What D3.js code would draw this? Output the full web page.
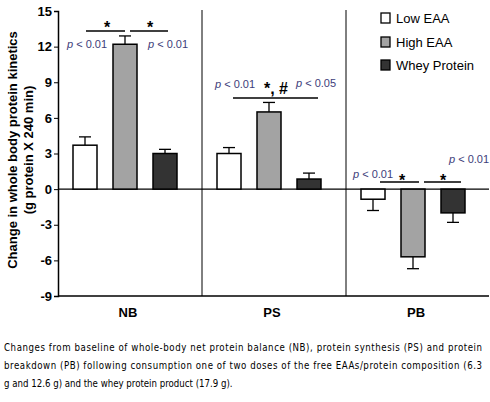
<!DOCTYPE html>
<html>
<head>
<meta charset="utf-8">
<script src="https://cdn.jsdelivr.net/npm/d3@7"></script>
<style>
body{margin:0;background:#fff;}
text{font-family:"Liberation Sans",Arial,sans-serif;}
.cap{font-family:"DejaVu Sans Condensed","Liberation Sans Narrow",sans-serif;font-size:9.6px;}
.p{fill:#3d3d7a;font-size:11px;}
</style>
</head>
<body>
<script>
var groups = ["NB","PS","PB"];
var series = ["Low EAA","High EAA","Whey Protein"];
var colors = ["#ffffff","#a3a3a3","#333333"];
var means = [[3.7,12.2,3.0],[3.0,6.5,0.85],[-0.85,-5.7,-2.0]];
var errs  = [[0.7,0.7,0.35],[0.5,0.8,0.5],[0.95,1.0,0.8]];
var ticks = [15,12,9,6,3,0,-3,-6,-9];

var W=490,H=402;
var svg=d3.select("body").append("svg").attr("width",W).attr("height",H);
var y=d3.scaleLinear().domain([-9,15]).range([296,11]);
var x0=d3.scaleBand().domain(groups).range([58,490]);
var x1=d3.scaleBand().domain(series).range([15,119]).paddingInner(0.4).paddingOuter(0);

// axis
var ax=svg.append("g").attr("transform","translate(58,0)")
  .call(d3.axisLeft(y).tickValues(ticks).tickSize(4).tickPadding(2).tickFormat(function(d){return String(d);}));
ax.select(".domain").attr("stroke","#000").attr("stroke-width",1.5);
ax.selectAll("text").style("font-size","13px").style("font-weight","bold").attr("fill","#000");
svg.append("line").attr("x1",58).attr("x2",489).attr("y1",y(-9)).attr("y2",y(-9)).attr("stroke","#000").attr("stroke-width",1.5);
svg.append("line").attr("x1",58).attr("x2",489).attr("y1",y(0)).attr("y2",y(0)).attr("stroke","#000").attr("stroke-width",1.2);
groups.slice(1).forEach(function(g){
  svg.append("line").attr("x1",x0(g)).attr("x2",x0(g)).attr("y1",10).attr("y2",y(-9)).attr("stroke","#000");
});

groups.forEach(function(g,gi){
  var gg=svg.append("g").attr("transform","translate("+x0(g)+",0)");
  series.forEach(function(s,si){
    var v=means[gi][si],e=errs[gi][si],bx=x1(s),bw=x1.bandwidth();
    var tip=v>=0?v+e:v-e;
    gg.append("line").attr("x1",bx+bw/2).attr("x2",bx+bw/2).attr("y1",y(v)).attr("y2",y(tip)).attr("stroke","#000").attr("stroke-width",1.3);
    gg.append("line").attr("x1",bx+bw/2-6).attr("x2",bx+bw/2+6).attr("y1",y(tip)).attr("y2",y(tip)).attr("stroke","#000").attr("stroke-width",1.3);
    gg.append("rect").attr("x",bx).attr("width",bw).attr("y",y(Math.max(v,0))).attr("height",Math.abs(y(v)-y(0)))
      .attr("fill",colors[si]).attr("stroke","#000").attr("stroke-width",1.5);
  });
  gg.append("text").attr("x",x0.bandwidth()/2-2).attr("y",317).attr("text-anchor","middle")
    .style("font-size","13px").style("font-weight","bold").text(g);
});

// y label
svg.append("text").attr("transform","translate(17,150) rotate(-90)").attr("text-anchor","middle")
  .style("font-size","13px").style("font-weight","bold").text("Change in whole body protein kinetics");
svg.append("text").attr("transform","translate(33,150) rotate(-90)").attr("text-anchor","middle")
  .style("font-size","13px").style("font-weight","bold").text("(g protein X 240 min)");

// annotations
function line(a,b,yy){svg.append("line").attr("x1",a).attr("x2",b).attr("y1",yy).attr("y2",yy).attr("stroke","#000").attr("stroke-width",1.5);}
function star(xx,yy,t){svg.append("text").attr("x",xx).attr("y",yy).attr("text-anchor","middle").style("font-size","16px").style("font-weight","bold").text(t||"*");}
function pv(xx,yy,t){var tx=svg.append("text").attr("class","p").attr("x",xx).attr("y",yy);
  tx.append("tspan").style("font-style","italic").text("p");tx.append("tspan").text(" < "+t);}
line(86,125,31);line(130,168,31);star(107,33);star(150,33);
pv(67,48,"0.01");pv(148,48,"0.01");
line(233,318,98);pv(215,88,"0.01");star(276,94,"*, #");pv(296,87,"0.05");
line(380,419,182);line(424,461,182);star(402,186);star(443,186);
pv(353,178,"0.01");pv(449,163,"0.01");

// legend
series.forEach(function(s,i){
  var ly=[18,42,65][i];
  svg.append("rect").attr("x",381).attr("y",ly-5).attr("width",9).attr("height",10).attr("fill",colors[i]).attr("stroke","#000").attr("stroke-width",1.3);
  svg.append("text").attr("x",396).attr("y",ly+5).style("font-size","13px").text(s);
});

// caption
var cap=["Changes from baseline of whole-body net protein balance (NB), protein synthesis (PS) and protein",
"breakdown (PB) following consumption one of two doses of the free EAAs/protein composition (6.3",
"g and 12.6 g) and the whey protein product (17.9 g)."];
cap.forEach(function(c,i){
  svg.append("text").attr("class","cap").attr("x",4).attr("y",351+i*18).attr("textLength",i<2?478:null).text(c);
});
</script>
</body>
</html>
